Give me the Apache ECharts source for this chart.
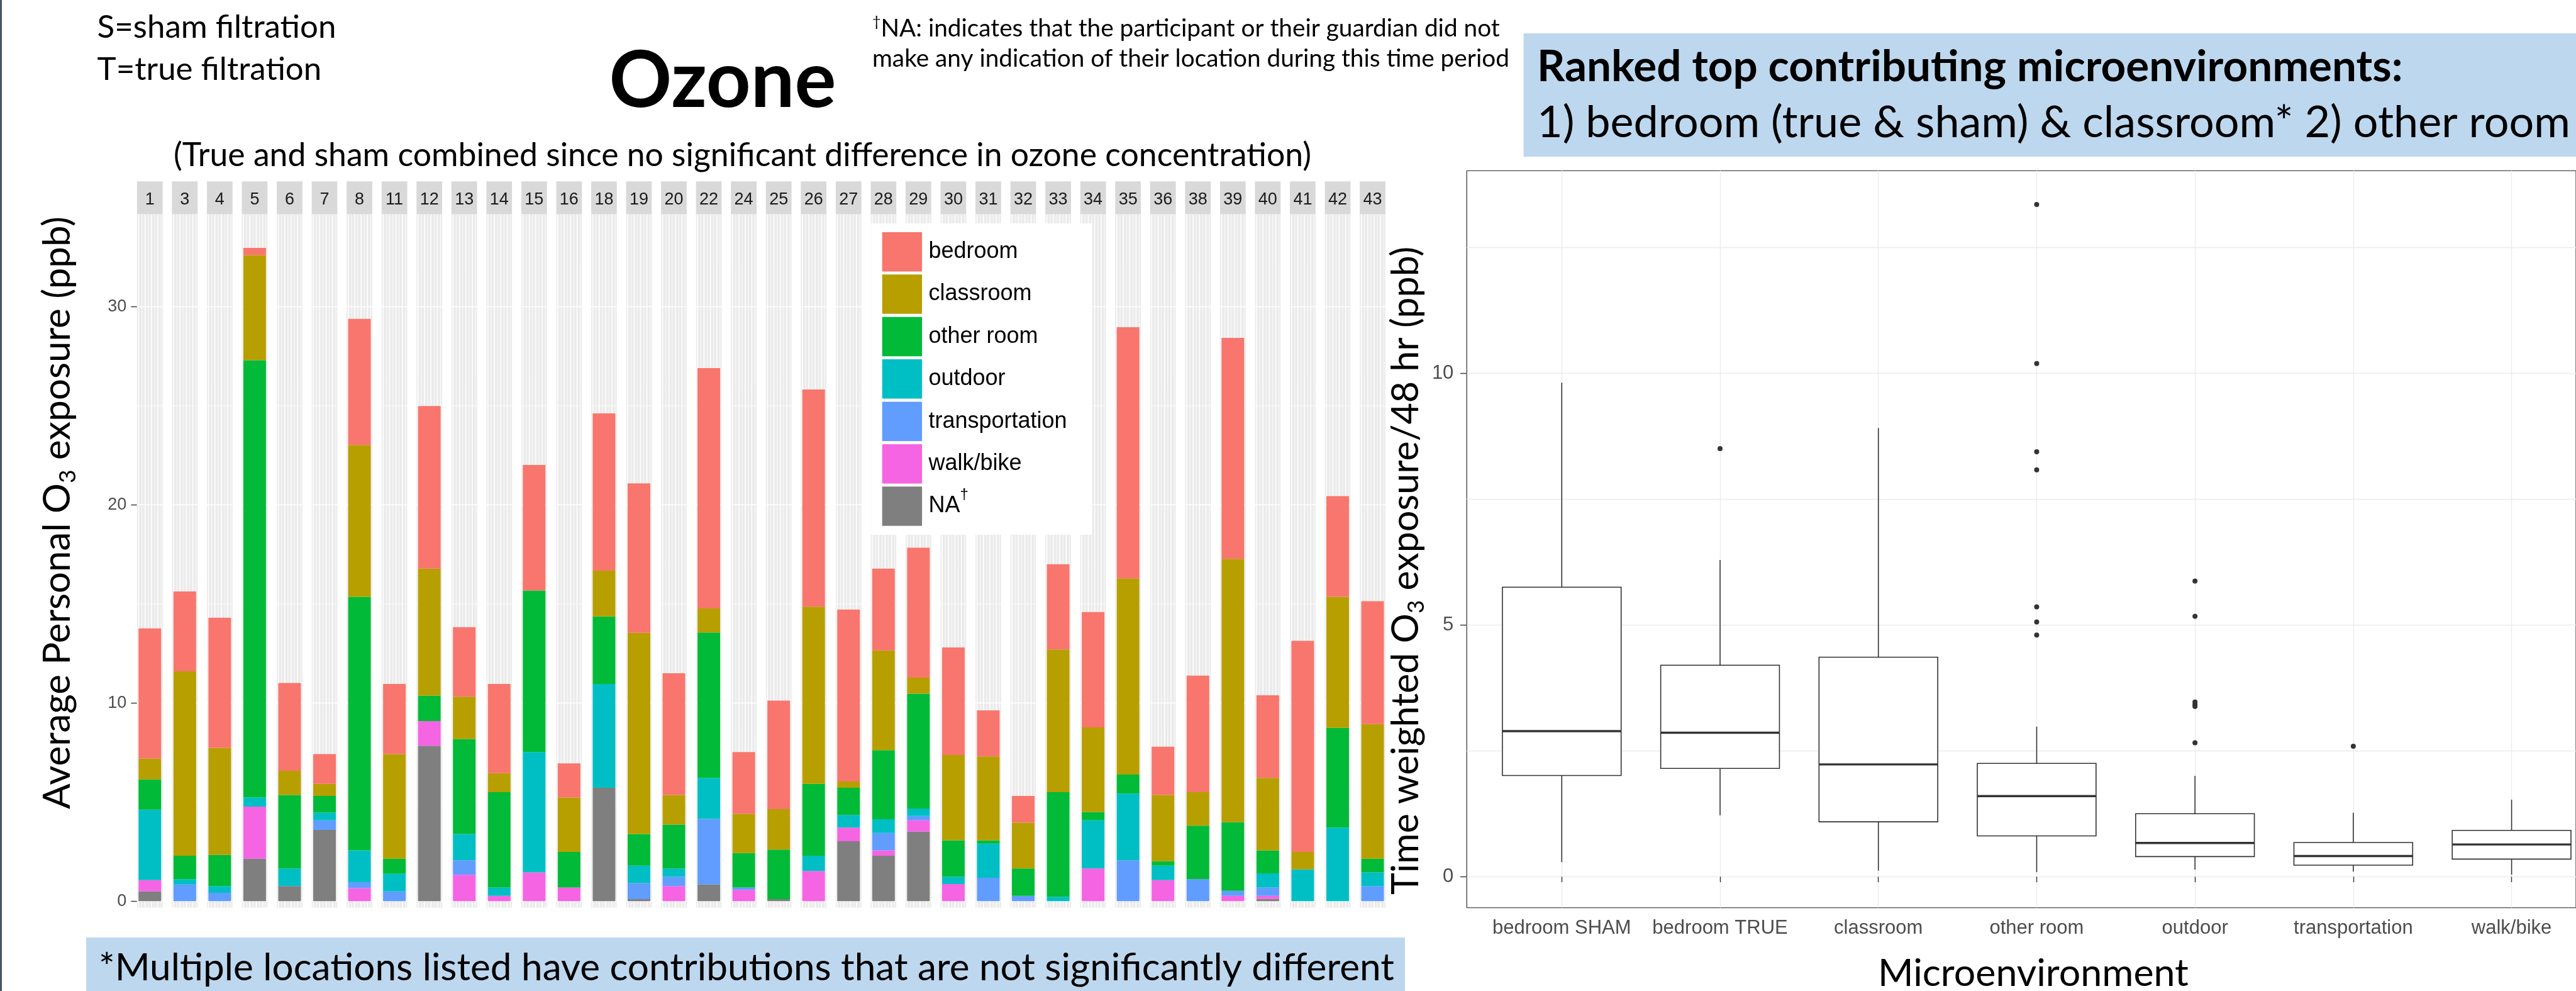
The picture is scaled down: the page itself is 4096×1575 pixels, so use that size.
<!DOCTYPE html>
<html>
<head>
<meta charset="utf-8">
<script src="https://cdn.jsdelivr.net/npm/echarts@6/dist/echarts.min.js"></script>
<style>
html, body { margin: 0; padding: 0; background: #ffffff; }
#chart { width: 4096px; height: 1575px; }
</style>
</head>
<body>
<div id="chart"></div>
<script>
// ---- Ozone: average personal exposure per participant (stacked by microenvironment, ppb)
const participants = ['1','3','4','5','6','7','8','11','12','13','14','15','16','18','19','20','22','24',
  '25','26','27','28','29','30','31','32','33','34','35','36','38','39','40','41','42','43'];

const naValues             = [0.49,0,0,2.14,0.76,3.59,0,0,7.84,0,0,0,0,5.72,0.10,0,0.84,0,0.10,0,3.02,2.29,3.51,0,0,0,0,0,0,0,0,0,0.12,0,0,0];
const walkBikeValues       = [0.57,0,0,2.63,0,0,0.66,0,1.25,1.33,0.27,1.45,0.69,0,0,0.76,0,0.57,0,1.52,0.69,0.27,0.57,0.86,0,0,0,1.65,0,1.06,0,0.27,0.15,0,0,0];
const transportationValues = [0,0.84,0.42,0,0,0.49,0.30,0.49,0,0.73,0,0,0,0,0.81,0.47,3.31,0.12,0,0,0,0.88,0.22,0,1.18,0.27,0,0,2.06,0,1.11,0.25,0.42,0,0,0.76];
const outdoorValues        = [3.56,0.27,0.34,0.46,0.89,0.39,1.60,0.89,0,1.33,0.42,6.07,0,5.24,0.88,0.42,2.07,0,0,0.77,0.64,0.69,0.37,0.37,1.72,0,0.22,2.43,3.37,0.73,0,0,0.71,1.60,3.71,0.69];
const otherRoomValues      = [1.52,1.18,1.57,22.07,3.71,0.84,12.80,0.76,1.28,4.79,4.81,8.16,1.79,3.41,1.60,2.21,7.34,1.74,2.50,3.63,1.37,3.49,5.80,1.84,0.17,1.38,5.28,0.42,0.96,0.22,2.70,3.46,1.16,0,5.04,0.69];
const classroomValues      = [1.06,9.31,5.41,5.30,1.22,0.61,7.66,5.28,6.41,2.14,0.96,0,2.75,2.31,10.15,1.50,1.21,1.97,2.04,8.94,0.32,5.03,0.81,4.30,4.23,2.31,7.20,4.27,9.90,3.35,1.69,13.29,3.66,0.88,6.61,6.80];
const bedroomValues        = [6.56,4.03,6.56,0.37,4.43,1.50,6.37,3.54,8.21,3.51,4.50,6.33,1.72,7.94,7.54,6.14,12.13,3.12,5.48,10.96,8.68,4.13,6.56,5.43,2.33,1.35,4.30,5.82,12.68,2.43,5.88,11.16,4.17,10.66,5.08,6.20];

// ---- Time weighted O3 exposure over 48 hr, per microenvironment (ppb)
const microenvironments = ['bedroom SHAM','bedroom TRUE','classroom','other room','outdoor','transportation','walk/bike'];
const boxLow    = [0.29, 1.22, 0.12, 0.09, 0.14, 0.10, 0.04];
const boxQ1     = [2.01, 2.15, 1.09, 0.81, 0.40, 0.23, 0.35];
const boxMedian = [2.89, 2.86, 2.23, 1.60, 0.67, 0.41, 0.64];
const boxQ3     = [5.75, 4.20, 4.36, 2.25, 1.25, 0.68, 0.92];
const boxHigh   = [9.81, 6.29, 8.91, 2.98, 2.00, 1.27, 1.53];
const outlierPoints = [[1, 8.50], [3, 13.35], [3, 10.19], [3, 8.44], [3, 8.08], [3, 5.36], [3, 5.06], [3, 4.80],
  [4, 5.87], [4, 5.17], [4, 3.47], [4, 3.42], [4, 3.38], [4, 2.66], [5, 2.59]];

// microenvironment colours (ggplot hue palette, NA in grey)
const envColors = {
  'bedroom': '#F8766D', 'classroom': '#B79F00', 'other room': '#00BA38', 'outdoor': '#00BFC4',
  'transportation': '#619CFF', 'walk/bike': '#F564E3', 'NA': '#7F7F7F'
};

// ---- text sizing helpers (fit a text run to a given width)
const measureCtx = document.createElement('canvas').getContext('2d');
function textWidth(str, size, family, weight) {
  measureCtx.font = (weight || 'normal') + ' ' + size + 'px ' + family;
  return measureCtx.measureText(str).width;
}
function fitSize(parts, family, weight, width) {
  let w = 0;
  parts.forEach(function (p) { w += textWidth(p[0], 100 * p[1], family, weight); });
  return 100 * width / w;
}
const SUB = 0.62;
const SANS = 'Lato';

const shamSize = fitSize([['S=sham filtration', 1]], SANS, 'normal', 380);
const ozoneSize = fitSize([['Ozone', 1]], SANS, 'bold', 361);
const noteSize = fitSize([['make any indication of their location during this time period', 1]], SANS, 'normal', 1013);
const subtitleSize = fitSize([['(True and sham combined since no significant difference in ozone concentration)', 1]], SANS, 'normal', 1809);
const rankHeadSize = fitSize([['Ranked top contributing microenvironments:', 1]], SANS, 'bold', 1377);
const rankLineSize = fitSize([['1) bedroom (true & sham) & classroom* 2) other room', 1]], SANS, 'normal', 1643);
const footSize = fitSize([['*Multiple locations listed have contributions that are not significantly different', 1]], SANS, 'normal', 2060);
const leftTitleSize = fitSize([['Average Personal O', 1], ['3', SUB], [' exposure (ppb)', 1]], SANS, 'normal', 942);
const rightTitleSize = fitSize([['Time weighted O', 1], ['3', SUB], [' exposure/48 hr (ppb)', 1]], SANS, 'normal', 1030);
const xTitleSize = fitSize([['Microenvironment', 1]], SANS, 'normal', 494);

function textEl(x, y, text, size, opts) {
  opts = opts || {};
  const align = opts.align || 'left';
  const style = {
    text: text, fontFamily: SANS, fontSize: size, fontWeight: opts.weight || 'normal',
    fill: '#000000', align: align, textAlign: align, verticalAlign: 'middle', textVerticalAlign: 'middle',
    lineHeight: size * 1.16
  };
  if (opts.rich) style.rich = opts.rich;
  const el = { type: 'text', x: x, y: y, z: 10, silent: true, style: style };
  if (opts.rotation) el.rotation = opts.rotation;
  return el;
}
function subStyle(size) {
  return { sub: { fontFamily: SANS, fontSize: size * SUB, lineHeight: size * SUB, verticalAlign: 'bottom', fill: '#000000' } };
}

// ---- facet panel backgrounds with strips
const PANEL_MIN = -0.33, PANEL_MAX = 34.67, STRIP_MAX = 36.33;
function renderPanel(params, api) {
  const i = api.value(0);
  const band = api.size([1, 0])[0];
  const cx = api.coord([i, 0])[0];
  const w = band * 0.734;
  const x0 = cx - w / 2;
  const yBottom = api.coord([i, PANEL_MIN])[1];
  const yTop = api.coord([i, PANEL_MAX])[1];
  const yStrip = api.coord([i, STRIP_MAX])[1];
  const children = [
    { type: 'rect', shape: { x: x0, y: yTop, width: w, height: yBottom - yTop }, style: { fill: '#EBEBEB' } }
  ];
  for (let j = 0; j < 8; j++) {
    const x = x0 + w * (j + 0.5) / 8;
    children.push({ type: 'line', shape: { x1: x, y1: yTop, x2: x, y2: yBottom },
      style: { stroke: '#FFFFFF', lineWidth: j % 2 === 0 ? 1.5 : 0.8 } });
  }
  for (let v = 0; v <= 30; v += 5) {
    const y = api.coord([i, v])[1];
    children.push({ type: 'line', shape: { x1: x0, y1: y, x2: x0 + w, y2: y },
      style: { stroke: '#FFFFFF', lineWidth: v % 10 === 0 ? 1.5 : 0.8 } });
  }
  children.push({ type: 'rect', shape: { x: x0, y: yStrip, width: w, height: yTop - yStrip }, style: { fill: '#D9D9D9' } });
  return { type: 'group', children: children };
}

// ---- box and whisker glyphs (no whisker caps, thick median)
function renderBox(params, api) {
  const i = api.value(0);
  const cx = api.coord([i, 0])[0];
  const half = api.size([1, 0])[0] * 0.75 / 2;
  const yLow = api.coord([i, api.value(1)])[1];
  const yQ1 = api.coord([i, api.value(2)])[1];
  const yMed = api.coord([i, api.value(3)])[1];
  const yQ3 = api.coord([i, api.value(4)])[1];
  const yHigh = api.coord([i, api.value(5)])[1];
  const line = { stroke: '#333333', lineWidth: 1.6 };
  return { type: 'group', children: [
    { type: 'line', shape: { x1: cx, y1: yHigh, x2: cx, y2: yQ3 }, style: line },
    { type: 'line', shape: { x1: cx, y1: yQ1, x2: cx, y2: yLow }, style: line },
    { type: 'rect', shape: { x: cx - half, y: yQ3, width: half * 2, height: yQ1 - yQ3 },
      style: { fill: '#FFFFFF', stroke: '#333333', lineWidth: 1.6 } },
    { type: 'line', shape: { x1: cx - half, y1: yMed, x2: cx + half, y2: yMed }, style: { stroke: '#333333', lineWidth: 3.4 } }
  ] };
}

const stackOrder = [
  ['NA', naValues], ['walk/bike', walkBikeValues], ['transportation', transportationValues],
  ['outdoor', outdoorValues], ['other room', otherRoomValues], ['classroom', classroomValues], ['bedroom', bedroomValues]
];

const barSeries = stackOrder.map(function (s) {
  return {
    name: s[0], type: 'bar', stack: 'total', xAxisIndex: 0, yAxisIndex: 0,
    data: s[1], barWidth: 36, clip: false, silent: true, z: 2,
    itemStyle: { color: envColors[s[0]] }
  };
});

const tickFont = 'Liberation Sans';

const option = {
  animation: false,
  backgroundColor: '#FFFFFF',
  textStyle: { fontFamily: tickFont },
  grid: [
    { left: 210.49, top: 487.46, width: 1999.8, height: 944.71 },                          // facets
    { left: 2332.26, top: 271.33, width: 1812.34, height: 1171.25, show: true,
      borderColor: '#4D4D4D', borderWidth: 1.4, backgroundColor: 'rgba(0,0,0,0)' },         // box panel frame
    { left: 2332.26, top: 393.03, width: 1812.34, height: 1000.36 },                        // box panel gridlines
    { left: 2332.26, top: 593.09, width: 10, height: 800.3 },                               // box y labels
    { left: 2483.3, top: 271.33, width: 1510.3, height: 1171.25 }                           // box data
  ],
  xAxis: [
    { gridIndex: 0, type: 'category', data: participants, position: 'top', offset: 169.8, z: 6,
      axisLine: { show: false }, axisTick: { show: false }, splitLine: { show: false },
      axisLabel: { interval: 0, margin: 0, verticalAlign: 'middle', fontSize: 27, color: '#1A1A1A', fontFamily: tickFont } },
    { gridIndex: 1, type: 'value', show: false },
    { gridIndex: 2, type: 'value', show: false },
    { gridIndex: 3, type: 'value', show: false },
    { gridIndex: 4, type: 'category', data: microenvironments, boundaryGap: false,
      axisLine: { show: false },
      axisTick: { show: true, length: 8.7, lineStyle: { color: '#333333', width: 1.4 } },
      axisLabel: { interval: 0, margin: 17, fontSize: 31, color: '#4D4D4D', fontFamily: tickFont },
      splitLine: { show: true, lineStyle: { color: '#EBEBEB', width: 1.3 } } }
  ],
  yAxis: [
    { gridIndex: 0, type: 'value', min: 0, max: 30, interval: 10, offset: -7.38,
      axisLine: { show: false }, splitLine: { show: false },
      axisTick: { show: true, length: 9.5, lineStyle: { color: '#333333', width: 1.4 } },
      axisLabel: { margin: 16.5, fontSize: 27, color: '#4D4D4D', fontFamily: tickFont } },
    { gridIndex: 1, type: 'value', min: 0, max: 1, show: false },
    { gridIndex: 2, type: 'value', min: 0, max: 12.5, interval: 2.5,
      axisLine: { show: false }, axisTick: { show: false }, axisLabel: { show: false },
      splitLine: { show: true, lineStyle: { color: '#EBEBEB', width: 1.3 } } },
    { gridIndex: 3, type: 'value', min: 0, max: 10, interval: 5,
      axisLine: { show: false }, splitLine: { show: false },
      axisTick: { show: true, length: 10.4, lineStyle: { color: '#333333', width: 1.4 } },
      axisLabel: { margin: 20.9, fontSize: 31, color: '#4D4D4D', fontFamily: tickFont } },
    { gridIndex: 4, type: 'value', min: -0.615, max: 14.02, show: false }
  ],
  legend: {
    data: ['bedroom', 'classroom', 'other room', 'outdoor', 'transportation', 'walk/bike', 'NA'],
    orient: 'vertical', left: 1384.5, top: 355,
    padding: [13.9, 40, 13.9, 18.2],
    itemWidth: 63.4, itemHeight: 62.5, itemGap: 4.9,
    icon: 'rect', backgroundColor: '#FFFFFF', selectedMode: false,
    formatter: function (name) { return name === 'NA' ? 'NA{sup|†}' : name; },
    textStyle: {
      fontFamily: tickFont, fontSize: 36, color: '#000000', lineHeight: 42, padding: [0, 0, 0, 5.4],
      rich: { sup: { fontFamily: tickFont, fontSize: 24, lineHeight: 24, color: '#000000', padding: [0, 0, 36, 0] } }
    }
  },
  graphic: [
    { type: 'rect', shape: { x: 0, y: 0, width: 3, height: 1575 }, style: { fill: '#44546A' }, silent: true },
    { type: 'rect', shape: { x: 2422.6, y: 53, width: 1673.4, height: 196 }, style: { fill: '#BDD7EE' }, silent: true },
    { type: 'rect', shape: { x: 137, y: 1490, width: 2097, height: 85 }, style: { fill: '#BDD7EE' }, silent: true },
    textEl(154.5, 43.4, 'S=sham filtration', shamSize),
    textEl(154.5, 110.2, 'T=true filtration', shamSize),
    textEl(1149, 130, 'Ozone', ozoneSize, { weight: 'bold', align: 'center' }),
    textEl(1387, 45, '{dag|†}NA: indicates that the participant or their guardian did not', noteSize,
      { rich: { dag: { fontFamily: SANS, fontSize: noteSize * 0.6, lineHeight: noteSize * 0.6, verticalAlign: 'top', fill: '#000000' } } }),
    textEl(1387, 93, 'make any indication of their location during this time period', noteSize),
    textEl(1180.5, 247.4, '(True and sham combined since no significant difference in ozone concentration)', subtitleSize, { align: 'center' }),
    textEl(2444, 107, 'Ranked top contributing microenvironments:', rankHeadSize, { weight: 'bold' }),
    textEl(2444, 195.3, '1) bedroom (true & sham) & classroom* 2) other room', rankLineSize),
    textEl(157, 1539, '*Multiple locations listed have contributions that are not significantly different', footSize),
    textEl(92, 815, 'Average Personal O{sub|3} exposure (ppb)', leftTitleSize,
      { align: 'center', rotation: Math.PI / 2, rich: subStyle(leftTitleSize) }),
    textEl(2236, 907, 'Time weighted O{sub|3} exposure/48 hr (ppb)', rightTitleSize,
      { align: 'center', rotation: Math.PI / 2, rich: subStyle(rightTitleSize) }),
    textEl(3233, 1547, 'Microenvironment', xTitleSize, { align: 'center' })
  ],
  series: [
    { name: 'panels', type: 'custom', xAxisIndex: 0, yAxisIndex: 0, z: 1, silent: true, clip: false,
      data: participants.map(function (p, i) { return [i]; }), encode: { x: 0 }, renderItem: renderPanel }
  ].concat(barSeries).concat([
    { name: 'boxes', type: 'custom', xAxisIndex: 4, yAxisIndex: 4, z: 3, silent: true, clip: false,
      data: microenvironments.map(function (m, i) { return [i, boxLow[i], boxQ1[i], boxMedian[i], boxQ3[i], boxHigh[i]]; }),
      encode: { x: 0, y: [1, 2, 3, 4, 5] }, renderItem: renderBox },
    { name: 'outliers', type: 'scatter', xAxisIndex: 4, yAxisIndex: 4, z: 4, silent: true,
      data: outlierPoints, symbolSize: 8, itemStyle: { color: '#333333', opacity: 1 } }
  ])
};

const chart = echarts.init(document.getElementById('chart'), null, { renderer: 'canvas' });
chart.setOption(option);
</script>
</body>
</html>
